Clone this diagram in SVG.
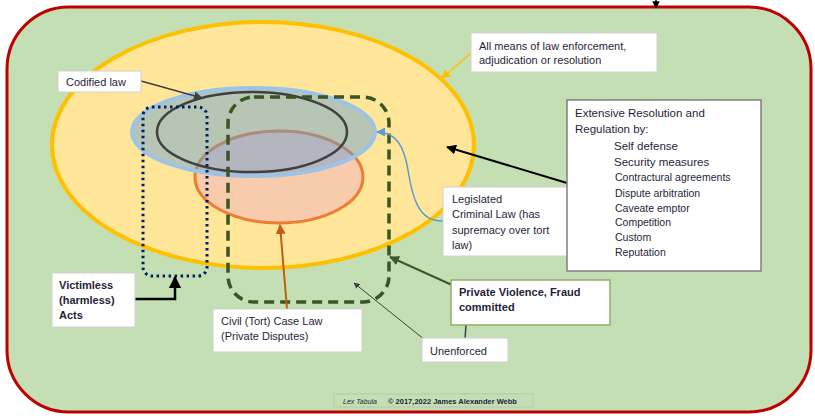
<svg xmlns="http://www.w3.org/2000/svg" width="815" height="418" viewBox="0 0 815 418">
<style>
text{font-family:"Liberation Sans",Arial,sans-serif;font-size:11px;fill:#1f1f3a}
.b{font-weight:bold}
.box{fill:#fff;stroke:#d0d0d0;stroke-width:1}
</style>
<defs>
<marker id="ak" viewBox="0 0 10 10" refX="9" refY="5" markerWidth="5" markerHeight="5" orient="auto"><path d="M0,0L10,5L0,10z" fill="#000"/></marker>
<marker id="ag" viewBox="0 0 10 10" refX="9" refY="5" markerWidth="6" markerHeight="6" orient="auto"><path d="M0,0L10,5L0,10z" fill="#404040"/></marker>
<marker id="ay" viewBox="0 0 10 10" refX="9" refY="5" markerWidth="6" markerHeight="6" orient="auto"><path d="M0,0L10,5L0,10z" fill="#FFC000"/></marker>
<marker id="ab" viewBox="0 0 10 10" refX="9" refY="5" markerWidth="6" markerHeight="6" orient="auto"><path d="M0,0L10,5L0,10z" fill="#5B9BD5"/></marker>
<marker id="ao" viewBox="0 0 10 10" refX="9" refY="5" markerWidth="5" markerHeight="5" orient="auto"><path d="M0,0L10,5L0,10z" fill="#C55A11"/></marker>
<marker id="adg" viewBox="0 0 10 10" refX="9" refY="5" markerWidth="5" markerHeight="5" orient="auto"><path d="M0,0L10,5L0,10z" fill="#3B5A2A"/></marker>
</defs>
<g id="world">
<rect x="7" y="7" width="804" height="405" rx="62" fill="#C5DFB4" stroke="#C00000" stroke-width="3"/>
</g>
<g id="enforcement">
<ellipse cx="263" cy="145" rx="211" ry="123" fill="#FFE699" stroke="#FFC000" stroke-width="4"/>
</g>
<g id="tort">
<ellipse cx="279" cy="177" rx="84" ry="46" fill="#F8CBAD" stroke="#ED7D31" stroke-width="3"/>
</g>
<g id="legislated">
<ellipse cx="253.5" cy="132" rx="121.5" ry="44" fill="#5B9BD5" fill-opacity="0.44" stroke="#9DC3E6" stroke-width="4"/>
</g>
<g id="codified">
<ellipse cx="252" cy="132" rx="95" ry="40" fill="none" stroke="#404040" stroke-width="2.5"/>
</g>
<g id="victimless-region">
<rect x="143" y="107" width="64" height="169" rx="9" fill="none" stroke="#002060" stroke-width="3" stroke-dasharray="2.5 3.5"/>
</g>
<g id="violence-region">
<rect x="228" y="97" width="161" height="205" rx="26" fill="none" stroke="#375623" stroke-width="3.5" stroke-dasharray="10 6"/>
</g>
<g id="connectors" fill="none">
<line x1="656" y1="0" x2="656" y2="8" stroke="#000" stroke-width="1.5" marker-end="url(#ak)"/>
<line x1="141" y1="81" x2="202" y2="98" stroke="#404040" stroke-width="1.5" marker-end="url(#ag)"/>
<line x1="471" y1="53" x2="442" y2="78" stroke="#FFC000" stroke-width="1.5" marker-end="url(#ay)"/>
<line x1="567" y1="183" x2="447" y2="147" stroke="#000" stroke-width="2" marker-end="url(#ak)"/>
<path d="M443,221C418,222 412,196 408,170C404,146 396,132 377,132" stroke="#5B9BD5" stroke-width="1.5" marker-end="url(#ab)"/>
<polyline points="135,299 175,299 175,277" stroke="#000" stroke-width="2.5" marker-end="url(#ak)"/>
<line x1="287" y1="309" x2="280" y2="225" stroke="#C55A11" stroke-width="2" marker-end="url(#ao)"/>
<line x1="452" y1="285" x2="390" y2="257" stroke="#3B5A2A" stroke-width="2" marker-end="url(#adg)"/>
<line x1="466" y1="325" x2="465" y2="339" stroke="#404040" stroke-width="1.5"/>
<line x1="425" y1="340" x2="354" y2="283" stroke="#404040" stroke-width="1" marker-end="url(#ag)"/>
</g>
<g id="codified-label">
<rect class="box" x="58" y="71" width="83" height="21"/>
<text x="66" y="86">Codified law</text>
</g>
<g id="all-means-label">
<rect class="box" x="471" y="33" width="186" height="39"/>
<text x="479" y="50">All means of law enforcement,</text>
<text x="479" y="64">adjudication or resolution</text>
</g>
<g id="legislated-label">
<rect class="box" x="443" y="187" width="126" height="69"/>
<text x="452" y="203">Legislated</text>
<text x="452" y="218">Criminal Law (has</text>
<text x="452" y="234">supremacy over tort</text>
<text x="452" y="249">law)</text>
</g>
<g id="extensive-label">
<rect x="567" y="100" width="194" height="171" fill="#fff" stroke="#7f7f7f" stroke-width="1.5"/>
<text x="575" y="117" style="font-size:11.5px">Extensive Resolution and</text>
<text x="575" y="133" style="font-size:11.5px">Regulation by:</text>
<text x="614" y="150" style="font-size:11.5px">Self defense</text>
<text x="614" y="166" style="font-size:11.5px">Security measures</text>
<text x="615" y="181" style="font-size:10.5px">Contractural agreements</text>
<text x="615" y="197" style="font-size:10.5px">Dispute arbitration</text>
<text x="615" y="212" style="font-size:10.5px">Caveate emptor</text>
<text x="615" y="226" style="font-size:10.5px">Competition</text>
<text x="615" y="241" style="font-size:10.5px">Custom</text>
<text x="615" y="256" style="font-size:10.5px">Reputation</text>
</g>
<g id="victimless-label">
<rect class="box" x="52" y="273" width="83" height="54"/>
<text class="b" x="59" y="289">Victimless</text>
<text class="b" x="59" y="304">(harmless)</text>
<text class="b" x="59" y="319">Acts</text>
</g>
<g id="civil-label">
<rect class="box" x="213" y="309" width="149" height="43"/>
<text x="221" y="325">Civil (Tort) Case Law</text>
<text x="221" y="340">(Private Disputes)</text>
</g>
<g id="violence-label">
<rect x="451" y="280" width="159" height="45" fill="#fff" stroke="#8CB06B" stroke-width="1.5"/>
<text class="b" x="459" y="296">Private Violence, Fraud</text>
<text class="b" x="459" y="311">committed</text>
</g>
<g id="unenforced-label">
<rect class="box" x="422" y="338" width="86" height="24"/>
<text x="430" y="355">Unenforced</text>
</g>
<g id="footer">
<rect x="334" y="394" width="199" height="13" fill="none" stroke="#b8c8ae" stroke-width="1"/>
<text x="343" y="403.5" style="font-size:7px;font-style:italic">Lex Tabula</text>
<text x="388" y="403.5" style="font-size:7.5px;font-weight:bold">© 2017,2022 James Alexander Webb</text>
</g>
</svg>
